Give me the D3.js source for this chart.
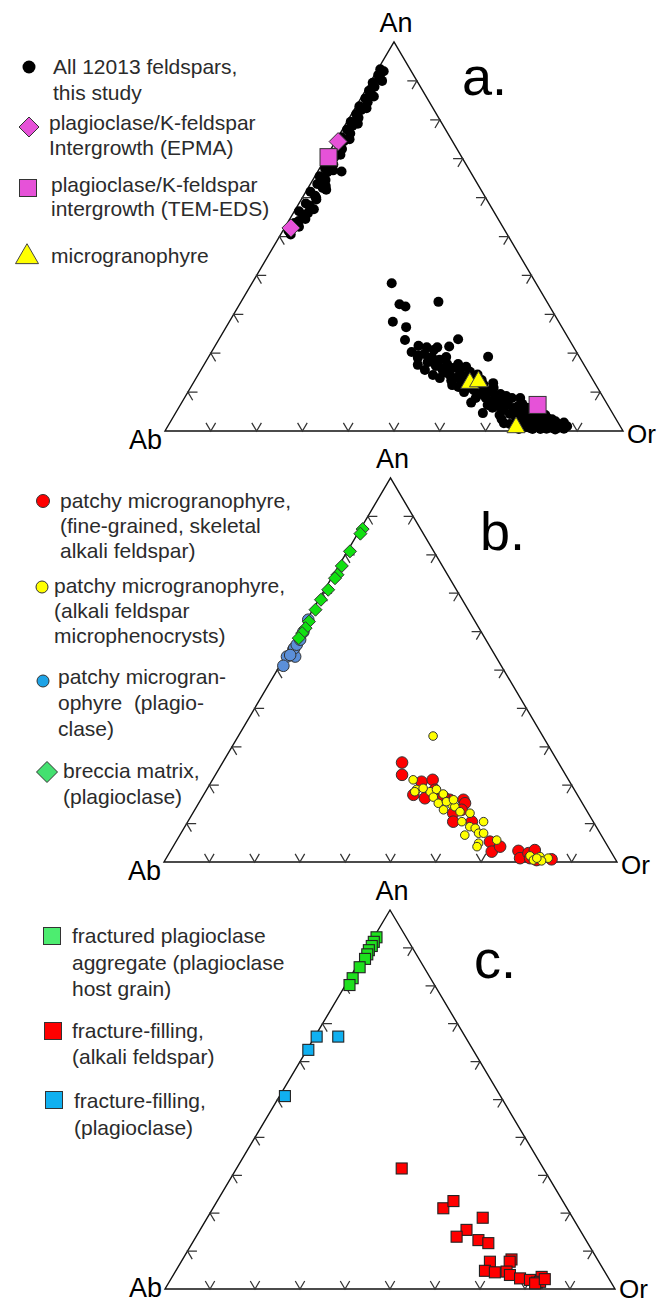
<!DOCTYPE html>
<html><head><meta charset="utf-8">
<script src="https://cdn.jsdelivr.net/npm/d3@7/dist/d3.min.js"></script>
<style>
body{margin:0;background:#fff}
svg{display:block}
text{font-family:Arial,"Liberation Sans",sans-serif}
</style>
</head><body>
<svg id="chart" width="660" height="1305"></svg>
<script>
// ---------- DATA (each point = [An %, Or %]; Ab = 100 - An - Or) ----------
const tickValues = [10, 20, 30, 40, 50, 60, 70, 80, 90];
const vertexLabels = {an: "An", ab: "Ab", or: "Or"};
const panelLetters = ["a.", "b.", "c."];

// panel a
const aAllFeldspars = [
  [93,0.5],[92.5,1.5],[91.5,0.8],[90.5,1.8],[89.5,0.6],[88.5,1.5],[87.5,0.8],[86.5,1.8],[85.5,1],[84.5,2],
  [83.5,0.7],[82.5,1.6],[81.5,1],[80.5,2],[79.5,0.8],[78.5,1.7],[77.5,1],[76.5,2.2],[75.5,0.8],[74.5,1.8],
  [73.5,1.2],[72.5,2.4],[71.5,0.8],[70.5,1.8],[69.5,1],[68.5,2.5],[67.5,1.2],[66.5,2.2],[65.5,1],[64.5,2.8],
  [63.5,1.5],[62.5,3.2],[61.5,1],[60.5,2.5],[59.5,3.3],[58.5,1.5],[57.5,3],[56.5,1],[55.5,2.5],[54.5,3.4],
  [53.5,1.5],[52.5,3],[51.5,1.2],[50.5,2.2],[66.7,5.2],[62,4.2],[57,4.0],
  [90,2.4],[86,2.6],[83,2.5],[79,2.6],[75,2.8],[71,2.8],[67,3.2],[63,3.6],[60,3.0],[58,2.5],[56,3.2],[54,2.2],[52,1.8],
  [38.0,30.5],[32.6,34.9],[32.0,36.5],[33.2,43.1],[28.1,35.7],[26.7,39.3],[23.4,40.7],[23.6,52.2],[19.1,61.0],
  [21.9,44.4],[21.5,46.4],[21.5,48.7],[21.7,51.2],[7.3,63.2],
  [20.3,43.7],[18.8,45.8],[19.8,46.7],[17.7,48.5],[19.0,48.8],[16.7,50.8],[18.3,50.8],[15.7,52.8],[17.2,53.0],
  [14.4,55.0],[16.2,54.8],[13.6,56.7],[15.2,56.8],[12.6,58.5],[14.1,58.6],[11.6,60.4],[13.1,60.4],[10.5,62.2],
  [12.1,62.2],[9.5,64.0],[11.1,64.1],[8.5,65.8],[10.0,66.0],[7.5,67.6],[9.0,67.8],[6.4,69.5],[8.0,69.6],
  [5.4,71.3],[6.9,71.4],[4.4,73.1],[5.9,73.2],[3.6,74.8],[4.9,75.0],[2.8,76.5],[4.1,76.7],[2.3,78.1],
  [3.3,78.4],[1.8,79.7],[2.8,80.0],[1.3,81.2],[2.3,81.6],[1.0,82.7],[1.8,83.2],[0.8,84.1],[1.3,84.7],
  [0.8,85.4],[1.0,86.2],[3.3,81.9],[4.9,77.2],[6.4,73.9],[9.0,70.0],[11.1,66.2],[13.1,62.6],[15.2,59.0],
  [17.2,55.4],[19.0,51.9],[20.8,48.3],[4.1,71.0],[6.7,67.1],[8.5,63.6],[10.0,60.3],[11.8,56.8],[13.6,53.2],
  [1.5,76.8],[0.8,79.3],[0.5,81.7],[1.8,74.4],[4.1,81.0],[5.4,78.1],[15.7,48.9],[14.4,51.3],[17.0,46.7],
  [11.3,58.4],[4.6,67.1],[12.3,65.5],[8.5,73.3],
  [0.5,77],[1,78.5],[0.5,80],[1.5,80.5],[0.6,83],[2,82.5],[1.2,84],[0.4,85],[2.5,84],[1.6,85.5],[0.6,86.8],
  [1.2,87.2],[3,83],[2.2,86],[3.5,79.5],[4.5,79],[3,77],[5,75.5],[6,76],[4,75],[2,73],[3,72],[5.5,74.5],[7,74.5],
  [7,70],[8,68],[6,68.5],[9.5,68.5],[8.5,71.5],[10.5,64.5],[12,63.5],[11,61.5],[12.5,59.8],[14,57.5],[13,56],
  [15,54],[16,52.5],[17.5,50],[18.5,48.5],[19.5,45.5],[16.5,57.5],[14.5,61]
];
const aEPMA = [[74.4,0.6],[52.2,1.4]];
const aTEM = [[70.4,0.5],[6.7,78.0]];
const aMicrogranophyre = [[12.3,60.4],[12.7,62.1],[0.9,76.2]];

// panel b
const bSkeletal = [
  [25.9,39.6],[22.7,41.2],[20.9,46.4],[21.4,48.6],[17.5,46.3],[16.6,49.3],[16.2,55.0],[16.2,58.0],[15.3,58.8],
  [12.7,57.5],[10.5,58.6],[10.5,62.7],[5.3,69.3],[2.7,71.0],[4.0,72.2],[2.9,76.8],[1.0,78.1],[2.3,79.3],
  [3.1,80.3],[0.5,82.0],[0.7,85.2],[1.0,80.3],[18.8,50.4],[17.0,53.2],[13.6,58.9]
];
const bMicrophenocrysts = [
  [32.8,43.0],[21.4,44.3],[18.9,46.3],[18.3,46.2],[18.3,49.6],[18.9,50.7],[16.9,51.0],[17.7,52.8],[15.3,52.9],
  [13.6,54.9],[14.9,56.1],[14.4,57.0],[13.1,58.8],[12.7,61.2],[10.5,60.5],[9.2,62.9],[8.8,64.3],[10.5,65.3],
  [7.5,65.7],[7.5,66.8],[7.0,62.9],[5.7,70.6],[4.9,67.0],[4.0,67.1],[1.6,80.0],[0.5,81.3],[1.4,82.3],
  [1.0,84.3],[0.3,83.2],[1.0,81.8],[19.2,47.6],[15.7,54.5],[16.2,55.8]
];
const bPlagioclase = [
  [63.1,0.3],[55.3,0.9],[53.5,0.4],[53.5,2.2],[55.7,0.9],[51.1,0.8],[53.9,0.9],[56.6,1.0],[57.9,1.1],[59.9,0.8]
];
const bBreccia = [
  [86.7,0.5],[85.5,0.6],[80.9,0.6],[77.1,0.7],[74.8,0.9],[73.9,0.8],[70.9,0.8],[68.3,0.5],[65.7,0.6],
  [62.6,0.7],[60.9,0.8],[59.6,0.7],[58.3,0.6]
];

// panel c
const cHostGrain = [[92.8,0.6],[91.6,0.6],[90.5,0.7],[89.4,0.6],[88.3,0.8],[87.1,0.9],[84.9,0.8],[82.0,0.7],[80.2,0.9]];
const cAlkali = [
  [31.8,36.7],[21.3,51.2],[23.2,52.5],[18.8,61.2],[15.6,59.2],[13.8,57.9],[12.9,63.2],[12.1,65.8],[7.2,68.6],
  [7.8,73.1],[7.2,73.0],[4.8,68.7],[4.4,71.1],[4.6,73.6],[3.7,74.8],[2.8,77.5],[2.4,79.9],[1.7,81.8],[3.2,82.1],
  [1.9,82.4],[1.5,81.5],[2.6,83.1]
];
const cPlagioclase = [[66.6,0.4],[66.6,5.2],[63.1,0.3],[50.9,1.2]];

// legend labels
const legendA = [
  ["All 12013 feldspars,", "this study"],
  ["plagioclase/K-feldspar", "Intergrowth (EPMA)"],
  ["plagioclase/K-feldspar", "intergrowth (TEM-EDS)"],
  ["microgranophyre"]
];
const legendB = [
  ["patchy microgranophyre,", "(fine-grained, skeletal", "alkali feldspar)"],
  ["patchy microgranophyre,", "(alkali feldspar", "microphenocrysts)"],
  ["patchy microgran-", "ophyre  (plagio-", "clase)"],
  ["breccia matrix,", "(plagioclase)"]
];
const legendC = [
  ["fractured plagioclase", "aggregate (plagioclase", "host grain)"],
  ["fracture-filling,", "(alkali feldspar)"],
  ["fracture-filling,", "(plagioclase)"]
];

// ---------- DRAWING ----------
const svg = d3.select("#chart");
const TXT = "#2b2b2b";

function drawMarker(g, shape, cx, cy, s, fill, stroke, sw) {
  let el;
  if (shape === "circle") {
    el = g.append("circle").attr("cx", cx).attr("cy", cy).attr("r", s);
  } else if (shape === "square") {
    el = g.append("rect").attr("x", cx - s / 2).attr("y", cy - s / 2).attr("width", s).attr("height", s);
  } else if (shape === "diamond") {
    el = g.append("path").attr("d", `M${cx},${cy - s}L${cx + s},${cy}L${cx},${cy + s}L${cx - s},${cy}Z`);
  } else if (shape === "triangle") {
    const h = s * Math.sqrt(3) / 2;
    el = g.append("path").attr("d", `M${cx},${cy - 2 * h / 3}L${cx + s / 2},${cy + h / 3}L${cx - s / 2},${cy + h / 3}Z`);
  }
  el.attr("fill", fill).attr("stroke", stroke || "none").attr("stroke-width", sw || 0);
  return el;
}

function ternary(geom) {
  const g = svg.append("g");
  const x = d3.scaleLinear().domain([0, 100]).range([geom.x0, geom.x1]);
  const y = d3.scaleLinear().domain([0, 100]).range([geom.y0, geom.yTop]);
  const proj = d => [x(d[1] + d[0] / 2), y(d[0])];
  const ab = proj([0, 0]), or = proj([0, 100]), an = proj([100, 0]);
  // frame
  g.append("path").attr("d", d3.line()([ab, or, an, ab]) + "Z")
    .attr("fill", "none").attr("stroke", "#111").attr("stroke-width", 1.4);
  // chevron ticks (arms follow the two other grid directions)
  const L = 2.1;
  const chevrons = [];
  tickValues.forEach(v => {
    chevrons.push([proj([L, v]), proj([0, v]), proj([L, v - L])]);                     // base
    chevrons.push([proj([v, L]), proj([v, 0]), proj([v - L, L])]);                     // left edge
    chevrons.push([proj([v, 100 - v - L]), proj([v, 100 - v]), proj([v - L, 100 - v])]); // right edge
  });
  g.selectAll("path.tick").data(chevrons).join("path").attr("class", "tick")
    .attr("d", d => d3.line()(d)).attr("fill", "none").attr("stroke", "#333").attr("stroke-width", 1.25);
  // vertex labels
  g.append("text").attr("x", an[0] + 2).attr("y", an[1] - 10).attr("text-anchor", "middle")
    .attr("font-size", 27).attr("fill", "#000").text(vertexLabels.an);
  g.append("text").attr("x", ab[0] - 3).attr("y", Math.min(ab[1] + 18, 1297)).attr("text-anchor", "end")
    .attr("font-size", 27).attr("fill", "#000").text(vertexLabels.ab);
  g.append("text").attr("x", or[0] + 4).attr("y", Math.min(or[1] + 12, 1298)).attr("text-anchor", "start")
    .attr("font-size", 26).attr("fill", "#000").text(vertexLabels.or);
  // panel letter
  g.append("text").attr("x", geom.letter[0]).attr("y", geom.letter[1])
    .attr("font-size", 54).attr("fill", "#000").text(geom.letterText);
  return {g, proj};
}

function series(t, data, shape, s, fill, stroke, sw) {
  const grp = t.g.append("g");
  data.forEach(d => { const p = t.proj(d); drawMarker(grp, shape, p[0], p[1], s, fill, stroke, sw); });
}

function legend(items, labels) {
  const g = svg.append("g");
  items.forEach((it, i) => {
    drawMarker(g, it.shape, it.mx, it.my, it.s, it.fill, it.stroke, it.sw);
    labels[i].forEach((line, j) => {
      g.append("text").attr("x", it.tx).attr("y", it.ty[j]).attr("font-size", 21)
        .attr("fill", TXT).attr("xml:space", "preserve").style("white-space", "pre").text(line);
    });
  });
}

// ----- panel a -----
const ta = ternary({x0: 165, x1: 623, y0: 431, yTop: 42, letter: [462, 95], letterText: panelLetters[0]});
series(ta, aAllFeldspars, "circle", 5, "#000");
series(ta, aEPMA, "diamond", 9, "#e652d8", "#333", 1);
series(ta, aTEM, "square", 17, "#e652d8", "#333", 1);
series(ta, aMicrogranophyre, "triangle", 18, "#ffff00", "#444", 1);
legend([
  {shape: "circle", mx: 29, my: 67, s: 6.5, fill: "#000", tx: 53, ty: [74, 100]},
  {shape: "diamond", mx: 29, my: 127, s: 10, fill: "#e652d8", stroke: "#333", sw: 1, tx: 49, ty: [130, 155]},
  {shape: "square", mx: 28, my: 188, s: 17, fill: "#e652d8", stroke: "#333", sw: 1, tx: 51, ty: [192, 216]},
  {shape: "triangle", mx: 27, my: 257, s: 23, fill: "#ffff00", stroke: "#444", sw: 1, tx: 51, ty: [263]}
], legendA);

// ----- panel b -----
const tb = ternary({x0: 164, x1: 617, y0: 862, yTop: 478, letter: [480, 550], letterText: panelLetters[1]});
series(tb, bSkeletal, "circle", 5.8, "#ff0000", "#333", 1);
series(tb, bMicrophenocrysts, "circle", 4.3, "#ffff00", "#333", 1);
series(tb, bPlagioclase, "circle", 5.8, "#5b8fd9", "#333", 1);
series(tb, bBreccia, "diamond", 6.5, "#11e011", "#333", 1);
legend([
  {shape: "circle", mx: 43, my: 501, s: 6.5, fill: "#ff0000", stroke: "#333", sw: 1, tx: 60, ty: [508, 533, 558]},
  {shape: "circle", mx: 42, my: 587, s: 6, fill: "#ffff00", stroke: "#333", sw: 1, tx: 54, ty: [593, 618, 643]},
  {shape: "circle", mx: 43, my: 681, s: 6, fill: "#1ea3e6", stroke: "#333", sw: 1, tx: 58, ty: [684, 710, 736]},
  {shape: "diamond", mx: 47, my: 772, s: 10.5, fill: "#44e070", stroke: "#333", sw: 1, tx: 63, ty: [778, 804]}
], legendB);

// ----- panel c -----
const tc = ternary({x0: 165, x1: 615, y0: 1289, yTop: 910, letter: [474, 978], letterText: panelLetters[2]});
series(tc, cHostGrain, "square", 11, "#1ee01e", "#222", 1.1);
series(tc, cPlagioclase, "square", 11, "#10b0f0", "#222", 1.1);
series(tc, cAlkali, "square", 11, "#ff0000", "#222", 1.1);
legend([
  {shape: "square", mx: 52, my: 936, s: 17, fill: "#4ded70", stroke: "#333", sw: 1, tx: 72, ty: [943, 970, 996]},
  {shape: "square", mx: 53, my: 1031, s: 17, fill: "#ff0000", stroke: "#333", sw: 1, tx: 72, ty: [1038, 1064]},
  {shape: "square", mx: 54, my: 1100, s: 17, fill: "#10b0f0", stroke: "#333", sw: 1, tx: 74, ty: [1108, 1135]}
], legendC);
</script>
</body></html>
